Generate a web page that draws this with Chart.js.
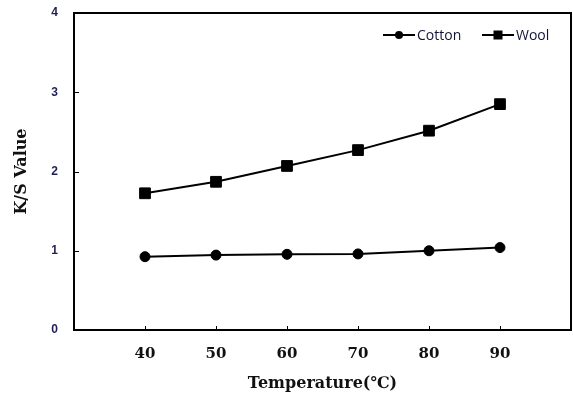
<!DOCTYPE html>
<html>
<head>
<meta charset="utf-8">
<script src="https://cdn.jsdelivr.net/npm/chart.js@4.4.1/dist/chart.umd.min.js"></script>
<style>
html,body{margin:0;padding:0;background:#fff;}
canvas{display:block;}
</style>
</head>
<body>
<canvas id="c" width="573" height="396"></canvas>
<script>
const temperatures = [40, 50, 60, 70, 80, 90];
const cottonKS = [0.925, 0.945, 0.955, 0.96, 1.0, 1.04];
const woolKS = [1.725, 1.87, 2.07, 2.27, 2.515, 2.85];
const xTickLabels = [40, 50, 60, 70, 80, 90];
const yTickLabels = [0, 1, 2, 3, 4];
const seriesNames = ['Cotton', 'Wool'];

const toPoints = (vals) => temperatures.map((t, i) => ({x: t, y: vals[i]}));

const framePlugin = {
  id: 'frame',
  afterDatasetsDraw(chart) {
    const {ctx, chartArea: a, scales} = chart;
    ctx.save();
    ctx.strokeStyle = '#000';
    ctx.lineWidth = 1;
    ctx.beginPath();
    xTickLabels.forEach(v => {
      const px = Math.round(scales.x.getPixelForValue(v)) + 0.5;
      ctx.moveTo(px, a.bottom);
      ctx.lineTo(px, a.bottom - 4);
    });
    yTickLabels.slice(1, -1).forEach(v => {
      const py = Math.round(scales.y.getPixelForValue(v)) + 0.5;
      ctx.moveTo(a.left, py);
      ctx.lineTo(a.left + 5, py);
    });
    ctx.stroke();
    ctx.lineWidth = 2;
    ctx.strokeStyle = '#000';
    ctx.strokeRect(a.left, a.top, a.right - a.left, a.bottom - a.top);
    const ly = 35;
    const items = [
      {x: 383, name: seriesNames[0], style: 'circle'},
      {x: 482, name: seriesNames[1], style: 'rect'}
    ];
    ctx.font = '14px "Open Sans"';
    ctx.textBaseline = 'middle';
    ctx.textAlign = 'left';
    items.forEach(it => {
      ctx.strokeStyle = '#000';
      ctx.lineWidth = 2;
      ctx.beginPath();
      ctx.moveTo(it.x, ly);
      ctx.lineTo(it.x + 32, ly);
      ctx.stroke();
      ctx.fillStyle = '#000';
      const cx = it.x + 16;
      if (it.style === 'circle') {
        ctx.beginPath();
        ctx.arc(cx, ly, 4, 0, Math.PI * 2);
        ctx.fill();
      } else {
        ctx.fillRect(cx - 4.5, ly - 4.5, 9, 9);
      }
      ctx.fillStyle = '#14143a';
      ctx.fillText(it.name, it.x + 34, ly + 1);
    });
    ctx.restore();
  }
};

new Chart(document.getElementById('c'), {
  type: 'line',
  data: {
    datasets: [
      {
        label: seriesNames[0],
        data: toPoints(cottonKS),
        borderColor: '#000',
        backgroundColor: '#000',
        borderWidth: 2,
        pointStyle: 'circle',
        pointRadius: 5,
        pointBorderWidth: 1,
        tension: 0
      },
      {
        label: seriesNames[1],
        data: toPoints(woolKS),
        borderColor: '#000',
        backgroundColor: '#000',
        borderWidth: 2,
        pointStyle: 'rect',
        pointRadius: 7.6,
        pointBorderWidth: 1,
        tension: 0
      }
    ]
  },
  options: {
    responsive: false,
    animation: false,
    layout: {autoPadding: false, padding: {left: 0, top: 13, right: 2, bottom: 0}},
    plugins: {legend: {display: false}, tooltip: {enabled: false}},
    scales: {
      x: {
        type: 'linear',
        min: 30,
        max: 100,
        afterBuildTicks: (s) => { s.ticks = [30].concat(xTickLabels, [100]).map(v => ({value: v})); },
        afterFit: (s) => { s.height = 66; s.paddingLeft = 0; s.paddingRight = 0; },
        grid: {display: false, drawTicks: false},
        border: {display: false},
        ticks: {
          padding: 15,
          color: '#111',
          font: {family: '"DejaVu Serif"', weight: 'bold', size: 15},
          callback: (v) => xTickLabels.includes(v) ? String(v) : ''
        },
        title: {
          display: true,
          text: 'Temperature(℃)',
          color: '#111',
          font: {family: '"DejaVu Serif"', weight: 'bold', size: 16},
          padding: {top: 0, bottom: 3}
        }
      },
      y: {
        min: 0,
        max: 4,
        afterBuildTicks: (s) => { s.ticks = yTickLabels.map(v => ({value: v})); },
        afterFit: (s) => { s.width = 74; s.paddingTop = 0; s.paddingBottom = 0; },
        grid: {display: false, drawTicks: false},
        border: {display: false},
        ticks: {
          padding: 16,
          color: '#1f1f55',
          font: {family: '"Liberation Sans"', weight: 'bold', size: 12}
        },
        title: {
          display: true,
          text: 'K/S Value',
          color: '#111',
          font: {family: '"DejaVu Serif"', weight: 'bold', size: 16},
          padding: {top: 12, bottom: 0}
        }
      }
    }
  },
  plugins: [framePlugin]
});
</script>
</body>
</html>
